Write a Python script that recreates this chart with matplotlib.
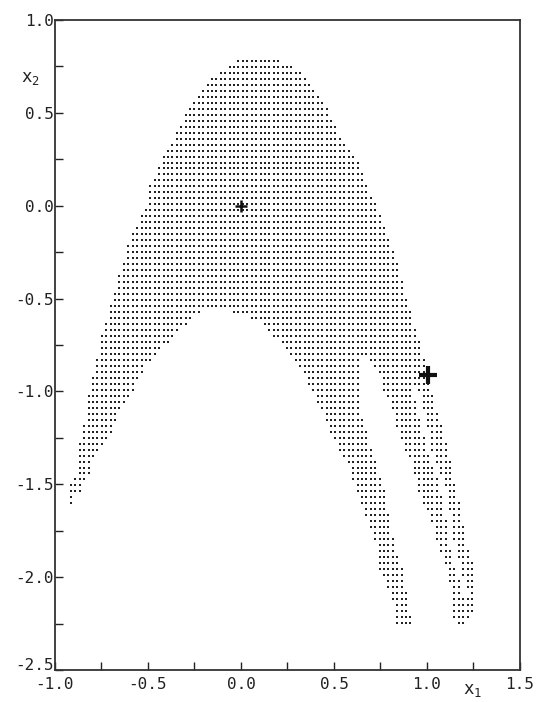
import numpy as np
import matplotlib
matplotlib.use("Agg")
import matplotlib.pyplot as plt
import matplotlib.transforms as mtransforms
from matplotlib.path import Path
from matplotlib.ticker import MultipleLocator

plt.rcParams['font.family'] = ['DejaVu Sans Mono']
plt.rcParams['axes.unicode_minus'] = False
plt.rcParams['mathtext.fontset'] = 'custom'
plt.rcParams['mathtext.rm'] = 'DejaVu Sans Mono'
plt.rcParams['mathtext.it'] = 'DejaVu Sans Mono'

# boundary of the dotted region (x1, x2)
# traced once round: outer left edge, top, outer right edge, right arm,
# gap between arms, middle arm, inner hole, back down the left arm
region_x = [-0.915, -0.915, -0.875, -0.87, -0.85, -0.83, -0.80, -0.775, -0.76, -0.715,
            -0.69, -0.65, -0.62, -0.585, -0.505, -0.49, -0.446, -0.39, -0.33, -0.285,
            -0.22, -0.13, -0.032, 0.035, 0.16, 0.226, 0.29, 0.333, 0.36, 0.41,
            0.45, 0.478, 0.516, 0.543, 0.586, 0.624, 0.65, 0.677, 0.704, 0.737,
            0.758, 0.785, 0.828, 0.855, 0.882, 0.898, 0.925, 0.946, 0.973, 0.99,
            1.02, 1.03, 1.05, 1.08, 1.107, 1.13, 1.16, 1.19, 1.215, 1.23,
            1.26, 1.26, 1.25, 1.21, 1.15, 1.13, 1.113, 1.06, 1.016, 0.96,
            0.91, 0.871, 0.838, 0.817, 0.774, 0.747, 0.71, 0.66, 0.63, 0.63,
            0.64, 0.677, 0.693, 0.72, 0.774, 0.80, 0.828, 0.871, 0.89, 0.92,
            0.84, 0.81, 0.747, 0.72, 0.677, 0.624, 0.575, 0.52, 0.48, 0.435,
            0.39, 0.344, 0.30, 0.28, 0.226, 0.145, 0.10, 0.032, -0.097, -0.19,
            -0.247, -0.28, -0.317, -0.36, -0.40, -0.45, -0.505, -0.543, -0.57, -0.61,
            -0.66, -0.68, -0.72, -0.75, -0.795, -0.81, -0.855, -0.855, -0.905]
region_y = [-1.64, -1.50, -1.41, -1.28, -1.21, -1.05, -0.92, -0.85, -0.72, -0.60,
            -0.49, -0.36, -0.265, -0.14, 0.0, 0.1, 0.2, 0.327, 0.424, 0.526,
            0.617, 0.714, 0.774, 0.81, 0.81, 0.774, 0.742, 0.714, 0.68, 0.617,
            0.553, 0.49, 0.43, 0.365, 0.305, 0.24, 0.176, 0.116, 0.052, -0.01,
            -0.07, -0.15, -0.265, -0.36, -0.465, -0.524, -0.615, -0.685, -0.75, -0.847,
            -0.92, -1.01, -1.11, -1.17, -1.30, -1.37, -1.547, -1.69, -1.82, -1.87,
            -1.98, -2.09, -2.19, -2.26, -2.26, -2.09, -1.98, -1.82, -1.69, -1.547,
            -1.37, -1.30, -1.21, -1.11, -1.01, -0.92, -0.85, -0.81, -0.85, -1.01,
            -1.11, -1.21, -1.30, -1.37, -1.547, -1.69, -1.82, -1.98, -2.09, -2.26,
            -2.26, -2.09, -1.98, -1.82, -1.69, -1.547, -1.39, -1.30, -1.21, -1.11,
            -1.01, -0.92, -0.87, -0.818, -0.754, -0.69, -0.626, -0.594, -0.556, -0.556,
            -0.594, -0.626, -0.66, -0.69, -0.754, -0.79, -0.85, -0.91, -0.98, -1.05,
            -1.11, -1.18, -1.27, -1.30, -1.37, -1.43, -1.50, -1.54, -1.56]

# thin split running down the right arm
split_x = [0.935, 0.984, 1.011, 1.07, 1.108, 1.129, 1.167, 1.215]
split_y = [-0.976, -1.176, -1.305, -1.466, -1.628, -1.789, -1.951, -2.113]

# the two marked points
cross_small = (0.0, 0.0)
cross_big = (1.005, -0.91)

# sampling grid of the original plot
dx, dy = 0.0237, 0.0322
x0, y0 = -0.914, -2.247

gx = x0 + dx * np.arange(int((1.3 - x0) / dx) + 1)
gy = y0 + dy * np.arange(int((0.85 - y0) / dy) + 1)
GX, GY = np.meshgrid(gx, gy)
pts = np.column_stack([GX.ravel(), GY.ravel()])
inside = Path(np.column_stack([region_x, region_y])).contains_points(pts)
# knock out the split
sx = np.interp(pts[:, 1], split_y[::-1], split_x[::-1])
in_split = (pts[:, 1] < split_y[0]) & (pts[:, 1] > split_y[-1]) & (np.abs(pts[:, 0] - sx) < 0.6 * dx)
keep = inside & ~in_split
px, py = pts[keep, 0], pts[keep, 1]

fig = plt.figure(figsize=(5.36, 7.02), dpi=100)
ax = fig.add_axes([0.1026, 0.0456, 0.8675, 0.926])

ax.scatter(px, py, s=2.6, marker='s', color='#222222', linewidths=0)
ax.plot(*cross_small, marker='+', ms=9, mew=1.8, color='#111111')
ax.plot(*cross_big, marker='+', ms=13, mew=3.0, color='#111111')

ax.set_xlim(-1.0, 1.5)
ax.set_ylim(-2.5, 1.0)
ax.xaxis.set_major_locator(MultipleLocator(0.5))
ax.xaxis.set_minor_locator(MultipleLocator(0.25))
ax.yaxis.set_major_locator(MultipleLocator(0.5))
ax.yaxis.set_minor_locator(MultipleLocator(0.25))
ax.xaxis.set_major_formatter(lambda v, p: '%.1f' % v)
ax.yaxis.set_major_formatter(lambda v, p: '%.1f' % v)
ax.tick_params(which='both', direction='in', length=6, width=1.0, color='#222222',
               labelsize=11.5, labelcolor='#222222')
ax.tick_params(axis='x', pad=5)
ax.tick_params(axis='y', pad=1)
for s in ax.spines.values():
    s.set_linewidth(1.3)
    s.set_color('#333333')

ax.text(-1.134, 0.688, r'$\mathrm{x_2}$', fontsize=12.5, color='#222222',
        ha='center', va='center')
ax.text(1.247, -2.61, r'$\mathrm{x_1}$', fontsize=12.5, color='#222222',
        ha='center', va='center', clip_on=False)

# the corner label sits a touch high in the original, clear of -1.0
fig.canvas.draw()
for lab in ax.get_yticklabels():
    if lab.get_text() == '-2.5':
        lab.set_transform(lab.get_transform() +
                          mtransforms.ScaledTranslation(0, 4 / 72, fig.dpi_scale_trans))

fig.savefig('out.png', dpi=100)
